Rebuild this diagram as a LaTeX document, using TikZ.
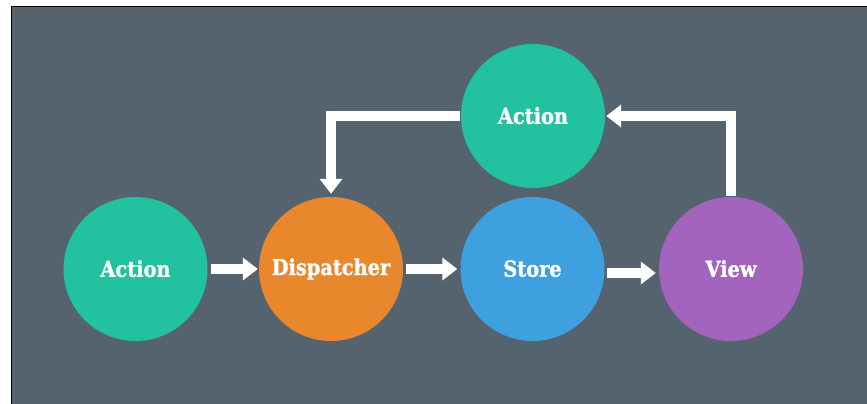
\documentclass[tikz,border=0pt]{standalone}
\usepackage{fontspec}
\usetikzlibrary{arrows.meta}
\newfontfamily\lblfont[FakeStretch=0.88,FakeBold=1.2]{DejaVu Serif}
\definecolor{bgslate}{HTML}{55636F}
\definecolor{cteal}{HTML}{22C2A0}
\definecolor{corange}{HTML}{E8872B}
\definecolor{cblue}{HTML}{3EA0DE}
\definecolor{cpurple}{HTML}{A264BC}
\begin{document}
\begin{tikzpicture}[x=1pt,y=-1pt,
  bubble/.style={circle,minimum size=144pt,inner sep=0pt,text=white,font=\lblfont\bfseries\fontsize{22}{26}\selectfont},
  arr/.style={draw=white,line width=10pt,-{Triangle[width=22pt,length=15pt]},line join=miter}]
\useasboundingbox (0,0) rectangle (867,404);
\fill[white] (0,0) rectangle (867,404);
\begin{scope}
\clip (0,0) rectangle (867,404);
\draw[fill=bgslate,draw=black,line width=1.2pt] (11.5,6.5) rectangle (875,412);
\end{scope}
\node[bubble,fill=cteal] (act) at (135.5,269) {\raisebox{1pt}{Action}};
\node[bubble,fill=corange] (disp) at (331,269) {\raisebox{1pt}{Dispatcher}};
\node[bubble,fill=cblue] (store) at (532.5,269) {\raisebox{1pt}{Store}};
\node[bubble,fill=cpurple] (view) at (731,269) {\raisebox{1pt}{View}};
\node[bubble,fill=cteal] (tact) at (533,116) {\raisebox{1pt}{Action}};
\draw[arr,shorten <=3pt,shorten >=1pt] (act) -- (disp);
\draw[arr,shorten <=3pt,shorten >=3pt] (disp) -- (store);
\draw[arr,shorten <=2pt,shorten >=3pt] ([yshift=-4pt]store.east) -- ([yshift=-4pt]view.west);
\draw[arr,shorten <=1pt,shorten >=3pt] (tact.west) -| (disp.north);
\draw[arr,shorten <=1pt,shorten >=1pt] (view.north) |- (tact.east);
\end{tikzpicture}
\end{document}
